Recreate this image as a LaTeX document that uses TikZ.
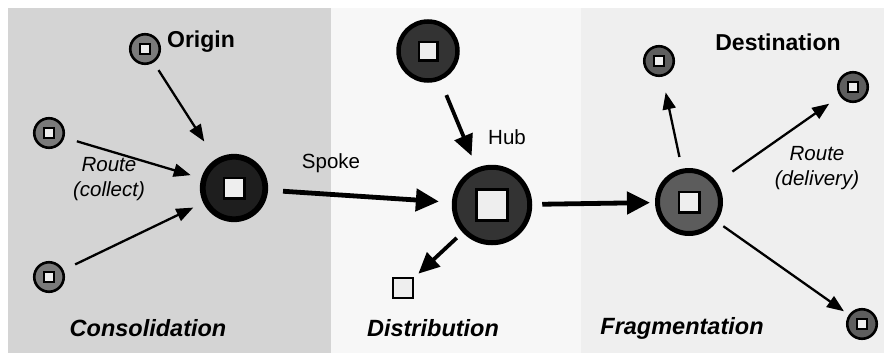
\documentclass[tikz,border=0pt]{standalone}
\usepackage{fontspec}
\setmainfont{Liberation Sans}
\usetikzlibrary{arrows.meta}
\definecolor{panelA}{HTML}{D4D4D4}
\definecolor{panelB}{HTML}{F7F7F7}
\definecolor{panelC}{HTML}{EFEFEF}
\definecolor{smallL}{HTML}{7A7A7A}
\definecolor{smallR}{HTML}{5E5E5E}
\definecolor{hubA}{HTML}{1E1E1E}
\definecolor{hubB}{HTML}{333333}
\definecolor{hubC}{HTML}{5C5C5C}
\definecolor{sqfill}{HTML}{EEEEEE}
\tikzset{
  smallnode/.style={circle, draw=black, line width=2.6pt, minimum size=29.5pt, inner sep=0pt, fill=#1},
  bignode/.style={circle, draw=black, inner sep=0pt, fill=#1},
  sqbox/.style={rectangle, draw=black, fill=sqfill, inner sep=0pt},
  smallsq/.style={sqbox, line width=2pt, minimum size=10pt},
  thinarrow/.style={draw=black, line width=2.3pt, -{Triangle[length=17pt,width=13pt]}},
  medarrow/.style={draw=black, line width=3.8pt, -{Triangle[length=21pt,width=19pt]}},
  thickarrow/.style={draw=black, line width=4.8pt, -{Triangle[length=23pt,width=22pt]}},
  boldlabel/.style={font=\fontsize{23}{27}\selectfont\bfseries, inner sep=0pt},
  bilabel/.style={font=\fontsize{23.5}{27}\selectfont\bfseries\itshape, inner sep=0pt},
  reglabel/.style={font=\fontsize{20.5}{25}\selectfont, inner sep=0pt, align=center},
  itlabel/.style={font=\fontsize{20.5}{25}\selectfont\itshape, inner sep=0pt, align=center},
}
\begin{document}
\begin{tikzpicture}[x=1pt,y=-1pt]
\useasboundingbox (0,0) rectangle (892,362);
\fill[white] (0,0) rectangle (892,362);
\fill[panelA] (8,8) rectangle (331,353);
\fill[panelB] (331,8) rectangle (581,353);
\fill[panelC] (581,8) rectangle (884,353);

% Consolidation
\node[smallnode=smallL] (orig) at (145,49) {};
\node[smallsq] (orig-sq) at (orig) {};
\node[smallnode=smallL] (l1) at (49,133) {};
\node[smallsq] (l1-sq) at (l1) {};
\node[smallnode=smallL] (l2) at (49,277) {};
\node[smallsq] (l2-sq) at (l2) {};
\node[bignode=hubA, line width=5.8pt, minimum size=62.5pt] (cons) at (234,188) {};
\node[sqbox, line width=2.5pt, minimum size=20.5pt] (cons-sq) at (cons) {};

\node[boldlabel] (t-origin) at (201,42) {Origin};
\node[itlabel] (t-rc) at (109,179) {Route\\[-0.5pt](collect)};
\node[bilabel] (t-cons) at (148,328) {Consolidation};

\draw[thinarrow, shorten <=9pt, shorten >=21pt] (orig) -- (cons);
\draw[thinarrow, shorten <=13pt, shorten >=11pt] (l1) -- (cons);
\draw[thinarrow, shorten <=13pt, shorten >=11pt] (l2) -- (cons);

% Distribution
\node[bignode=hubB, line width=4.5pt, minimum size=59pt] (top) at (428,51) {};
\node[sqbox, line width=2.5pt, minimum size=18.5pt] (top-sq) at (top) {};
\node[bignode=hubB, line width=5pt, minimum size=75.5pt] (hub) at (492,205) {};
\node[sqbox, line width=2.5pt, minimum size=31pt] (hub-sq) at (hub) {};
\node[sqbox, line width=2pt, minimum size=20pt] (dsq) at (403,288) {};

\node[reglabel] (t-spoke) at (331,163) {Spoke};
\node[reglabel] (t-hub) at (507,137) {Hub};
\node[bilabel] (t-dist) at (433,328) {Distribution};

\draw[thickarrow, shorten <=15pt, shorten >=13pt] (cons) -- (hub);
\draw[medarrow, shorten <=16pt, shorten >=13pt] (top) -- (hub);
\draw[medarrow, shorten <=8pt, shorten >=6pt] (hub) -- (dsq);

% Fragmentation
\node[bignode=hubC, line width=5pt, minimum size=63pt] (frag) at (689,202) {};
\node[sqbox, line width=2.5pt, minimum size=20.5pt] (frag-sq) at (frag) {};
\node[smallnode=smallR] (d1) at (659,61) {};
\node[smallsq] (d1-sq) at (d1) {};
\node[smallnode=smallR] (d2) at (853,87) {};
\node[smallsq] (d2-sq) at (d2) {};
\node[smallnode=smallR] (d3) at (862,324) {};
\node[smallsq] (d3-sq) at (d3) {};

\node[boldlabel] (t-dest) at (778,42) {Destination};
\node[itlabel] (t-rd) at (817,168) {Route\\[-0.5pt](delivery)};
\node[bilabel] (t-frag) at (682,328) {Fragmentation};

\draw[thickarrow, shorten <=10pt, shorten >=5pt] (hub) -- (frag);
\draw[thinarrow, shorten <=12pt, shorten >=16pt] (frag) -- (d1);
\draw[thinarrow, shorten <=19pt, shorten >=13pt] (frag) -- (d2);
\draw[thinarrow, shorten <=8pt, shorten >=6pt] (frag) -- (d3);
\end{tikzpicture}
\end{document}
